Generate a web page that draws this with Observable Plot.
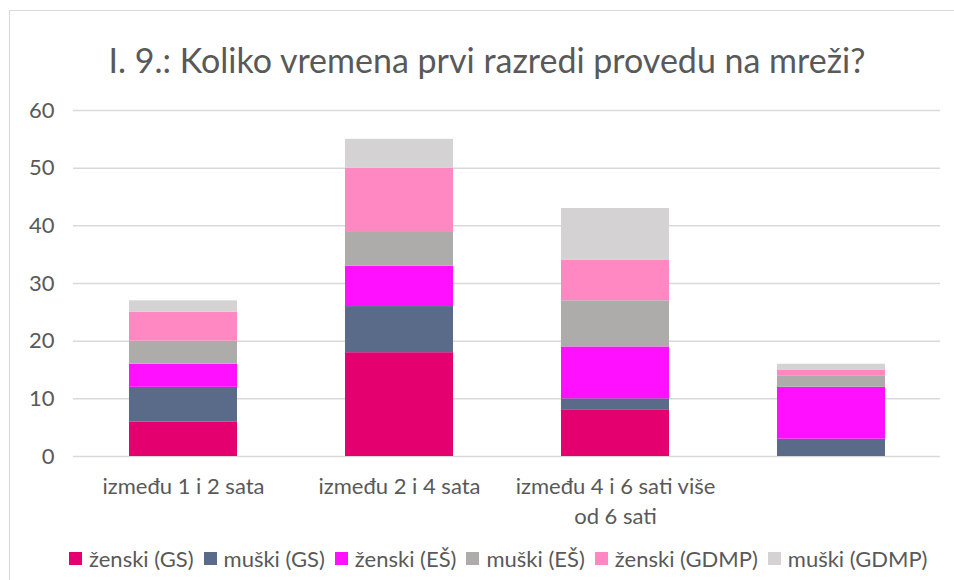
<!DOCTYPE html>
<html>
<head>
<meta charset="utf-8">
<script src="https://cdn.jsdelivr.net/npm/d3@7"></script>
<script src="https://cdn.jsdelivr.net/npm/@observablehq/plot@0.6"></script>
<style>
  html, body { margin: 0; padding: 0; background: #fff; overflow: hidden; }
  #wrap { position: relative; width: 954px; height: 580px; overflow: hidden; font-family: Lato, "Liberation Sans", sans-serif; color: #595959; }
  #frame { position: absolute; left: 9px; top: 10px; width: 1000px; height: 600px; border: 1.5px solid #d9d9d9; box-sizing: border-box; }
  #title { position: absolute; left: 0; width: 974px; top: 38px; text-align: center; font-size: 34px; line-height: 44px; color: #595959; }
  #chart { position: absolute; left: 0; top: 90px; }
  #legend { position: absolute; left: 69px; top: 545px; display: flex; align-items: center; font-size: 22px; white-space: nowrap; }
  .item { display: flex; align-items: center; margin-right: 10px; }
  .sw { width: 13px; height: 13px; margin-right: 7px; }
</style>
</head>
<body>
<div id="wrap">
  <div id="frame"></div>
  <div id="title"></div>
  <div id="chart"></div>
  <div id="legend"></div>
</div>
<script>
const titleText = "I. 9.: Koliko vremena prvi razredi provedu na mreži?";
const categories = ["između 1 i 2 sata", "između 2 i 4 sata", "između 4 i 6 sati više od 6 sati", ""];
const series = ["ženski (GS)", "muški (GS)", "ženski (EŠ)", "muški (EŠ)", "ženski (GDMP)", "muški (GDMP)"];
const zenskiGS   = [6, 18, 8, 0];
const muskiGS    = [6, 8, 2, 3];
const zenskiES   = [4, 7, 9, 9];
const muskiES    = [4, 6, 8, 2];
const zenskiGDMP = [5, 11, 7, 1];
const muskiGDMP  = [2, 5, 9, 1];
const yTicks = [0, 10, 20, 30, 40, 50, 60];
const colors = ["#E5006F", "#5A6B89", "#FF10FF", "#ADACAB", "#FF88C3", "#D4D2D3"];

const seriesValues = [zenskiGS, muskiGS, zenskiES, muskiES, zenskiGDMP, muskiGDMP];
const data = [];
series.forEach((s, si) => {
  categories.forEach((c, ci) => {
    data.push({category: c, series: s, value: seriesValues[si][ci]});
  });
});

// simple word wrap by character count
function wrap(text, maxChars) {
  const words = text.split(" ");
  const lines = [];
  let cur = "";
  for (const w of words) {
    if (cur && (cur + " " + w).length > maxChars) { lines.push(cur); cur = w; }
    else cur = cur ? cur + " " + w : w;
  }
  if (cur) lines.push(cur);
  return lines.join("\n");
}

document.getElementById("title").textContent = titleText;

const chart = Plot.plot({
  width: 954,
  height: 450,
  marginLeft: 73,
  marginRight: 14,
  marginTop: 20,
  marginBottom: 84,
  style: {fontFamily: "Lato, 'Liberation Sans', sans-serif", fontSize: "22px", color: "#595959", background: "transparent"},
  x: {domain: categories, paddingInner: 0.5, paddingOuter: 0.25, label: null},
  y: {domain: [0, 60], ticks: yTicks, label: null},
  color: {domain: series, range: colors},
  marks: [
    Plot.gridY(yTicks, {stroke: "#d9d9d9", strokeOpacity: 1, strokeWidth: 1.5}),
    Plot.barY(data, {x: "category", y: "value", fill: "series", order: series, inset: 0}),
    Plot.axisY(yTicks, {tickSize: 0, tickPadding: 19, fontSize: 22, fill: "#595959", textAnchor: "end"}),
    Plot.axisX({tickSize: 0, tickPadding: 16, fontSize: 22, fill: "#595959", tickFormat: d => wrap(d, 22), lineHeight: 1.36})
  ]
});
document.getElementById("chart").appendChild(chart);

const legend = d3.select("#legend");
series.forEach((s, i) => {
  const it = legend.append("div").attr("class", "item");
  it.append("div").attr("class", "sw").style("background", colors[i]);
  it.append("span").text(s);
});
</script>
</body>
</html>
